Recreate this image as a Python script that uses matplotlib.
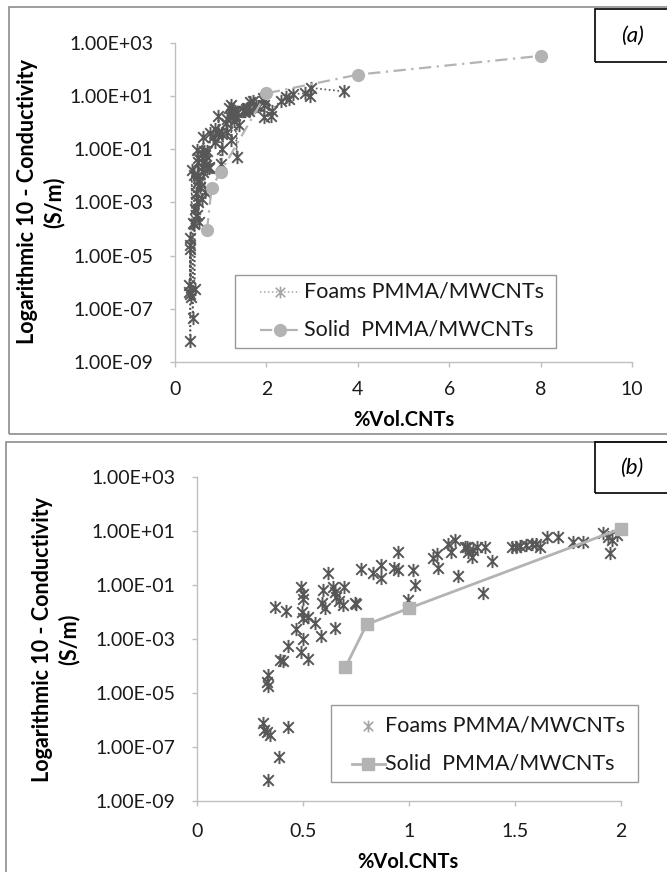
import matplotlib
matplotlib.use("Agg")
import matplotlib.pyplot as plt
from matplotlib.path import Path
from matplotlib.patches import Rectangle
from matplotlib.lines import Line2D
from matplotlib.ticker import FixedLocator, FixedFormatter
import numpy as np

plt.rcParams['font.family'] = ['Lato', 'DejaVu Sans']

# ---- data -------------------------------------------------------------
foam_vol = [0.336, 0.388, 0.31, 0.315, 0.33, 0.344, 0.428, 0.336, 0.33, 0.333,
            0.39, 0.407, 0.428, 0.368, 0.42, 0.49, 0.525, 0.50, 0.467, 0.494,
            0.50, 0.525, 0.557, 0.587, 0.492, 0.50, 0.50, 0.593, 0.588, 0.604,
            0.619, 0.651, 0.64, 0.65, 0.658, 0.671, 0.693, 0.69, 0.745, 0.75,
            0.772, 0.83, 0.87, 0.866, 0.93, 0.95, 0.95, 0.997, 1.02, 1.028,
            1.115, 1.13, 1.137, 1.185, 1.217, 1.20, 1.233, 1.264, 1.28, 1.296,
            1.275, 1.303, 1.319, 1.358, 1.35, 1.39, 1.484, 1.505, 1.524, 1.552,
            1.579, 1.60, 1.617, 1.65, 1.704, 1.775, 1.822, 1.917, 1.948, 1.956,
            1.98, 1.94, 2.10, 2.12, 2.31, 2.43, 2.50, 2.59, 2.85, 2.97,
            2.95, 3.69]
foam_cond = [6.0e-9, 4.4e-8, 7.9e-7, 4.3e-7, 3.7e-7, 2.8e-7, 5.4e-7, 4.7e-5, 2.6e-5, 1.8e-5,
             1.7e-4, 1.6e-4, 5.5e-4, 1.6e-2, 1.1e-2, 3.4e-4, 1.8e-4, 1.0e-3, 2.3e-3, 1.05e-2,
             5.9e-3, 6.8e-3, 3.9e-3, 1.3e-3, 8.9e-2, 4.7e-2, 3.2e-2, 6.6e-2, 2.1e-2, 1.4e-2,
             0.28, 2.5e-3, 8.7e-2, 5.8e-2, 3.7e-2, 2.6e-2, 8.7e-2, 1.9e-2, 2.1e-2, 2.0e-2,
             0.39, 0.28, 0.56, 0.18, 0.43, 0.36, 1.7, 2.8e-2, 0.36, 0.10,
             1.0, 1.4, 0.44, 3.5, 4.7, 1.7, 0.22, 2.7, 1.7, 1.15,
             2.7, 2.0, 2.7, 2.5, 5.2e-2, 0.81, 2.7, 2.7, 2.8, 3.1,
             3.4, 3.4, 2.7, 6.0, 6.3, 4.1, 4.1, 8.3, 1.6, 4.7,
             7.2, 6.3, 1.8, 2.8, 6.6, 8.9, 7.5, 11.7, 12.6, 20.0,
             10.0, 14.8]

solid_vol = [0.7, 0.8, 1.0, 2.0, 4.0, 8.0]
solid_cond = [9.0e-5, 3.5e-3, 1.4e-2, 12.5, 63.0, 320.0]

y_ticks = [1e-9, 1e-7, 1e-5, 1e-3, 1e-1, 1e1, 1e3]
y_tick_labels = ["1.00E-09", "1.00E-07", "1.00E-05", "1.00E-03",
                 "1.00E-01", "1.00E+01", "1.00E+03"]
xticks_a = [0, 2, 4, 6, 8, 10]
xticks_b = [0, 0.5, 1, 1.5, 2]
xticklabels_b = ["0", "0.5", "1", "1.5", "2"]

series_labels = ["Foams PMMA/MWCNTs", "Solid  PMMA/MWCNTs"]
y_title = "Logarithmic 10 - Conductivity\n(S/m)"
x_title = "%Vol.CNTs"

# ---- styling ----------------------------------------------------------
W, H = 667, 872
FOAM = "#575757"
FOAM_LEG = "#a6a6a6"
SOLID = "#b3b3b3"
AXIS = "#bfbfbf"
FRAME = "#8c8c8c"
TICK_FS = 14
LEG_FS = 15.5
TITLE_FS = 14.5
YTITLE_FS = 15.5
DASHDOT = (0, (5.5, 2.5, 1, 2.5))
DOTTED = (0, (1, 1.6))
STAR_MS = 9.5
STAR_MEW = 1.4

star = Path([(0, -1), (0, 1), (-0.8, -0.8), (0.8, 0.8), (-0.8, 0.8), (0.8, -0.8)],
            [Path.MOVETO, Path.LINETO] * 3)


def fx(px):
    return px / W


def fy(py):
    return 1 - py / H


fig = plt.figure(figsize=(W / 100, H / 100), dpi=100)

# outer panel frames and panel tags
fig.patches.append(Rectangle((fx(9), fy(434)), (720 - 9) / W, (434 - 7) / H,
                             transform=fig.transFigure, fill=False,
                             edgecolor=FRAME, lw=1.2))
fig.patches.append(Rectangle((fx(6), fy(900)), (720 - 6) / W, (900 - 442) / H,
                             transform=fig.transFigure, fill=False,
                             edgecolor=FRAME, lw=1.2))
for tag, top, bot in (("(a)", 9, 62), ("(b)", 442, 493)):
    fig.patches.append(Rectangle((fx(595), fy(bot)), (720 - 595) / W, (bot - top) / H,
                                 transform=fig.transFigure, fill=False,
                                 edgecolor="black", lw=1.2))
    fig.text(fx(632), fy((top + bot) / 2), tag, ha="center", va="center",
             fontsize=16, style="italic")


def style_axes(ax):
    ax.set_yscale("log")
    ax.set_ylim(1e-9, 1e3)
    for s in ("top", "right"):
        ax.spines[s].set_visible(False)
    for s in ("left", "bottom"):
        ax.spines[s].set_color(AXIS)
        ax.spines[s].set_linewidth(1.0)
    ax.yaxis.set_major_locator(FixedLocator(y_ticks))
    ax.yaxis.set_major_formatter(FixedFormatter(y_tick_labels))
    ax.yaxis.set_minor_locator(FixedLocator([]))
    ax.tick_params(axis="both", which="major", direction="out", length=3.6,
                   width=1.0, color=AXIS, labelsize=TICK_FS, labelcolor="#1a1a1a")
    ax.tick_params(axis="y", pad=12)


def legend_box(x0, x1, y0, y1):
    fig.patches.append(Rectangle((fx(x0), fy(y1)), (x1 - x0) / W, (y1 - y0) / H,
                                 transform=fig.transFigure, facecolor="white",
                                 edgecolor="#999999", lw=1.0, zorder=5))


def legend_row(xa, xb, xm, xt, yc, label, **style):
    fig.add_artist(Line2D([fx(xa), fx(xb)], [fy(yc), fy(yc)],
                          transform=fig.transFigure, zorder=6,
                          **{k: v for k, v in style.items() if not k.startswith("m")}))
    fig.add_artist(Line2D([fx(xm)], [fy(yc)], transform=fig.transFigure,
                          linestyle="none", zorder=7,
                          **{k: v for k, v in style.items() if k.startswith("m")}))
    fig.text(fx(xt), fy(yc), label, ha="left", va="center", fontsize=LEG_FS,
             color="#1a1a1a", zorder=8)


# ---- panel (a) --------------------------------------------------------
axa = fig.add_axes([fx(175), fy(362), (632 - 175) / W, (362 - 42.7) / H])
style_axes(axa)
order = np.argsort(foam_vol, kind="stable")
fv = np.array(foam_vol)[order]
fc = np.array(foam_cond)[order]
axa.plot(fv, fc, linestyle=DOTTED, lw=1.2, color=FOAM,
         marker=star, ms=STAR_MS, mew=STAR_MEW, mec=FOAM, mfc="none", zorder=2)
axa.plot(solid_vol, solid_cond, linestyle=DASHDOT, lw=1.6,
         color=SOLID, marker="o", ms=8.5, mec=SOLID, mfc=SOLID, zorder=3)
axa.set_xlim(0, 10)
axa.xaxis.set_major_locator(FixedLocator(xticks_a))
axa.set_xticklabels([str(v) for v in xticks_a])
axa.tick_params(axis="x", pad=10)

legend_box(235, 556, 275, 348)
legend_row(260, 300, 280, 304, 292, series_labels[0],
           linestyle=DOTTED, lw=1.1, color=FOAM_LEG,
           marker=star, ms=8.5, mew=1.2, mec=FOAM_LEG, mfc="none")
legend_row(260, 300, 280, 304, 330, series_labels[1],
           linestyle=DASHDOT, lw=1.6, color=SOLID,
           marker="o", ms=8.5, mec=SOLID, mfc=SOLID)

fig.text(fx(41), fy(202), y_title, rotation=90, ha="center", va="center",
         fontsize=YTITLE_FS, fontweight="bold", multialignment="center",
         linespacing=1.25)
fig.text(fx(404), fy(420), x_title, ha="center", va="center",
         fontsize=TITLE_FS, fontweight="bold")

# ---- panel (b) --------------------------------------------------------
axb = fig.add_axes([fx(197), fy(801), (621 - 197) / W, (801 - 477.3) / H])
style_axes(axb)
fvb = np.array(foam_vol)
fcb = np.array(foam_cond)
inb = fvb <= 2.0
svb = np.array(solid_vol)
scb = np.array(solid_cond)
sinb = svb <= 2.0
axb.plot(fvb[inb], fcb[inb], linestyle="none", marker=star, ms=STAR_MS, mew=STAR_MEW,
         mec=FOAM, mfc="none", zorder=2, clip_on=False)
axb.plot(svb[sinb], scb[sinb], linestyle="-", lw=2.0, color=SOLID,
         marker="s", ms=8, mec=SOLID, mfc=SOLID, zorder=3, clip_on=False)
axb.set_xlim(0, 2)
axb.xaxis.set_major_locator(FixedLocator(xticks_b))
axb.set_xticklabels(xticklabels_b)
axb.tick_params(axis="x", pad=12)

legend_box(331, 638, 705, 782)
legend_row(360, 376, 368, 385, 725.5, series_labels[0],
           linestyle="none", lw=0, color=FOAM_LEG,
           marker=star, ms=8.5, mew=1.2, mec=FOAM_LEG, mfc="none")
legend_row(352, 385, 368, 385, 763.5, series_labels[1],
           linestyle="-", lw=2.0, color=SOLID,
           marker="s", ms=8, mec=SOLID, mfc=SOLID)

fig.text(fx(56), fy(639), y_title, rotation=90, ha="center", va="center",
         fontsize=YTITLE_FS, fontweight="bold", multialignment="center",
         linespacing=1.25)
fig.text(fx(408), fy(862), x_title, ha="center", va="center",
         fontsize=TITLE_FS, fontweight="bold")

fig.savefig("out.png", dpi=100)
